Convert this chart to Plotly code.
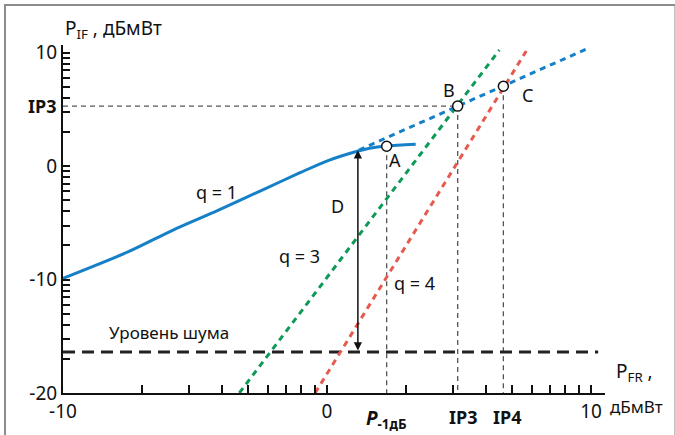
import numpy as np
import plotly.graph_objects as go

# ---------------- data ----------------
# q = 1 : real output characteristic (solid blue)
q1_x = [-10.0, -7.52, -5.83, -4.13, -2.31, -1.00, 0.04, 1.08, 1.61, 2.26, 3.36]
q1_y = [-9.89, -7.54, -5.63, -3.90, -1.95, -0.55, 0.50, 1.28, 1.58, 1.78, 1.93]
# linear extrapolation of q = 1 (dotted blue)
q1_ext_x = [1.21, 9.89]
q1_ext_y = [1.43, 10.40]
# q = 3 (dotted green) and q = 4 (dotted red)
q3_x = [-3.32, 6.53]
q3_y = [-20.0, 10.25]
q4_x = [-0.45, 7.61]
q4_y = [-20.0, 10.40]
# noise level
noise_x = [-10.0, 10.27]
noise_level = -16.38
# characteristic points A, B, C
pt_names = ["A", "B", "C"]
pt_x = [2.26, 4.95, 6.68]
pt_y = [1.76, 5.30, 7.05]
# dynamic range arrow D
d_x = 1.17
d_top = 1.40
# axis: labelled ticks and log-style minor ticks inside each decade
x_major = [-10, 0, 10]
x_major_text = ["-10", "0", "10"]
y_major = [-20, -10, 0, 10]
y_major_text = ["-20", "-10", "0", "10"]
x_decades = [-10, 0]
y_decades = [-20, -10, 0]

FONT = "Noto Sans, DejaVu Sans, sans-serif"
BLUE = "#1580c8"
GREEN = "#0d9a57"
RED = "#e65a50"
GUIDE = "#555555"


def decade_minor(bases):
    vals = []
    for b in bases:
        for k in range(2, 10):
            vals.append(round(b + 10 * np.log10(k), 4))
    return vals


xt_minor = decade_minor(x_decades)
yt_minor = decade_minor(y_decades)

fig = go.Figure()

A, B, C = (pt_x[0], pt_y[0]), (pt_x[1], pt_y[1]), (pt_x[2], pt_y[2])
guide = dict(color=GUIDE, width=1.3, dash="5px,4px")
# guide lines
fig.add_trace(go.Scatter(x=[-10, B[0]], y=[B[1], B[1]], mode="lines", line=guide, hoverinfo="skip"))
for (gx, gy) in [A, B, C]:
    fig.add_trace(go.Scatter(x=[gx, gx], y=[gy, -20], mode="lines", line=guide, hoverinfo="skip"))

# noise level
fig.add_trace(go.Scatter(x=noise_x, y=[noise_level, noise_level], mode="lines",
                         line=dict(color="#222222", width=3, dash="12px,7px"), hoverinfo="skip"))
# q = 3 and q = 4
fig.add_trace(go.Scatter(x=q3_x, y=q3_y, mode="lines",
                         line=dict(color=GREEN, width=3, dash="6px,5px"), hoverinfo="skip"))
fig.add_trace(go.Scatter(x=q4_x, y=q4_y, mode="lines",
                         line=dict(color=RED, width=3, dash="6px,5px"), hoverinfo="skip"))
# q = 1 extrapolation and real curve
fig.add_trace(go.Scatter(x=q1_ext_x, y=q1_ext_y, mode="lines",
                         line=dict(color=BLUE, width=3, dash="6px,5px"), hoverinfo="skip"))
fig.add_trace(go.Scatter(x=q1_x, y=q1_y, mode="lines",
                         line=dict(color=BLUE, width=3, shape="spline", smoothing=0.8), hoverinfo="skip"))
# points A, B, C
fig.add_trace(go.Scatter(x=pt_x, y=pt_y, mode="markers",
                         marker=dict(size=10, color="white", line=dict(color="#111111", width=1.5)),
                         hoverinfo="skip"))

ann = []


def txt(x, y, s, size=18, xref="x", yref="y", xanchor="center", yanchor="middle"):
    ann.append(dict(x=x, y=y, xref=xref, yref=yref, text=s, showarrow=False,
                    xanchor=xanchor, yanchor=yanchor,
                    font=dict(family=FONT, size=size, color="#111111")))


# D arrow (double-headed)
ann.append(dict(x=d_x, y=d_top, ax=d_x, ay=noise_level, xref="x", yref="y", axref="x", ayref="y",
                showarrow=True, arrowhead=2, startarrowhead=2, arrowside="end+start",
                arrowsize=1.1, startarrowsize=1.1, arrowwidth=1.5, arrowcolor="#111111", text=""))

# point / curve labels
txt(A[0] + 0.33, A[1] - 1.25, "A")
txt(B[0] - 0.33, B[1] + 1.4, "B")
txt(C[0] + 0.93, C[1] - 0.75, "C")
txt(-4.2, -2.3, "q = 1")
txt(-1.05, -7.9, "q = 3")
txt(3.3, -10.3, "q = 4")
txt(0.38, -3.5, "D")
txt(-6.0, -14.7, "Уровень шума", size=17)

# special axis labels
txt(-0.009, B[1], "<b>IP3</b>", size=18, xref="paper", xanchor="right")
txt(pt_x[0], -0.03, "<b><i>P</i><sub>-1дБ</sub></b>", size=19, yref="paper", yanchor="top")
txt(pt_x[1] + 0.2, -0.03, "<b>IP3</b>", size=18, yref="paper", yanchor="top")
txt(pt_x[2] + 0.15, -0.03, "<b>IP4</b>", size=18, yref="paper", yanchor="top")

# axis titles
txt(0.0, 1.0, "P<sub>IF</sub> , дБмВт", size=19, xref="paper", yref="paper",
    xanchor="left", yanchor="bottom")
txt(1.055, 0.06, "P<sub>FR</sub> ,", size=19, xref="paper", yref="paper")
txt(1.058, -0.04, "дБмВт", size=17, xref="paper", yref="paper")

tick_common = dict(showgrid=False, zeroline=False, automargin=False,
                   showline=True, linecolor="#111111", linewidth=2,
                   ticks="inside", tickwidth=1.5, tickcolor="#111111",
                   tickangle=0, tickmode="array",
                   tickfont=dict(family=FONT, size=19, color="#111111"))

fig.update_layout(
    width=675, height=435,
    margin=dict(l=63, r=70, t=45, b=42),
    paper_bgcolor="white", plot_bgcolor="white",
    showlegend=False,
    font=dict(family=FONT, size=18, color="#111111"),
    annotations=ann,
    shapes=[dict(type="rect", xref="paper", yref="paper",
                 x0=-0.107, x1=1.13, y0=-0.25, y1=1.115,
                 line=dict(color="#8c8c8c", width=2), layer="below")],
    xaxis=dict(range=[-10, 10.53], ticklen=8, tickvals=x_major, ticktext=x_major_text,
               minor=dict(tickmode="array", tickvals=xt_minor, ticks="inside", ticklen=8,
                          tickwidth=1.5, tickcolor="#111111", showgrid=False),
               **tick_common),
    yaxis=dict(range=[-20, 10.69], ticklen=7, tickvals=y_major, ticktext=y_major_text,
               minor=dict(tickmode="array", tickvals=yt_minor, ticks="inside", ticklen=7,
                          tickwidth=1.5, tickcolor="#111111", showgrid=False),
               **tick_common),
)

fig.write_html("out.html", config={"displayModeBar": False},
               post_script="document.body.style.margin='0';document.body.style.overflow='hidden';")
